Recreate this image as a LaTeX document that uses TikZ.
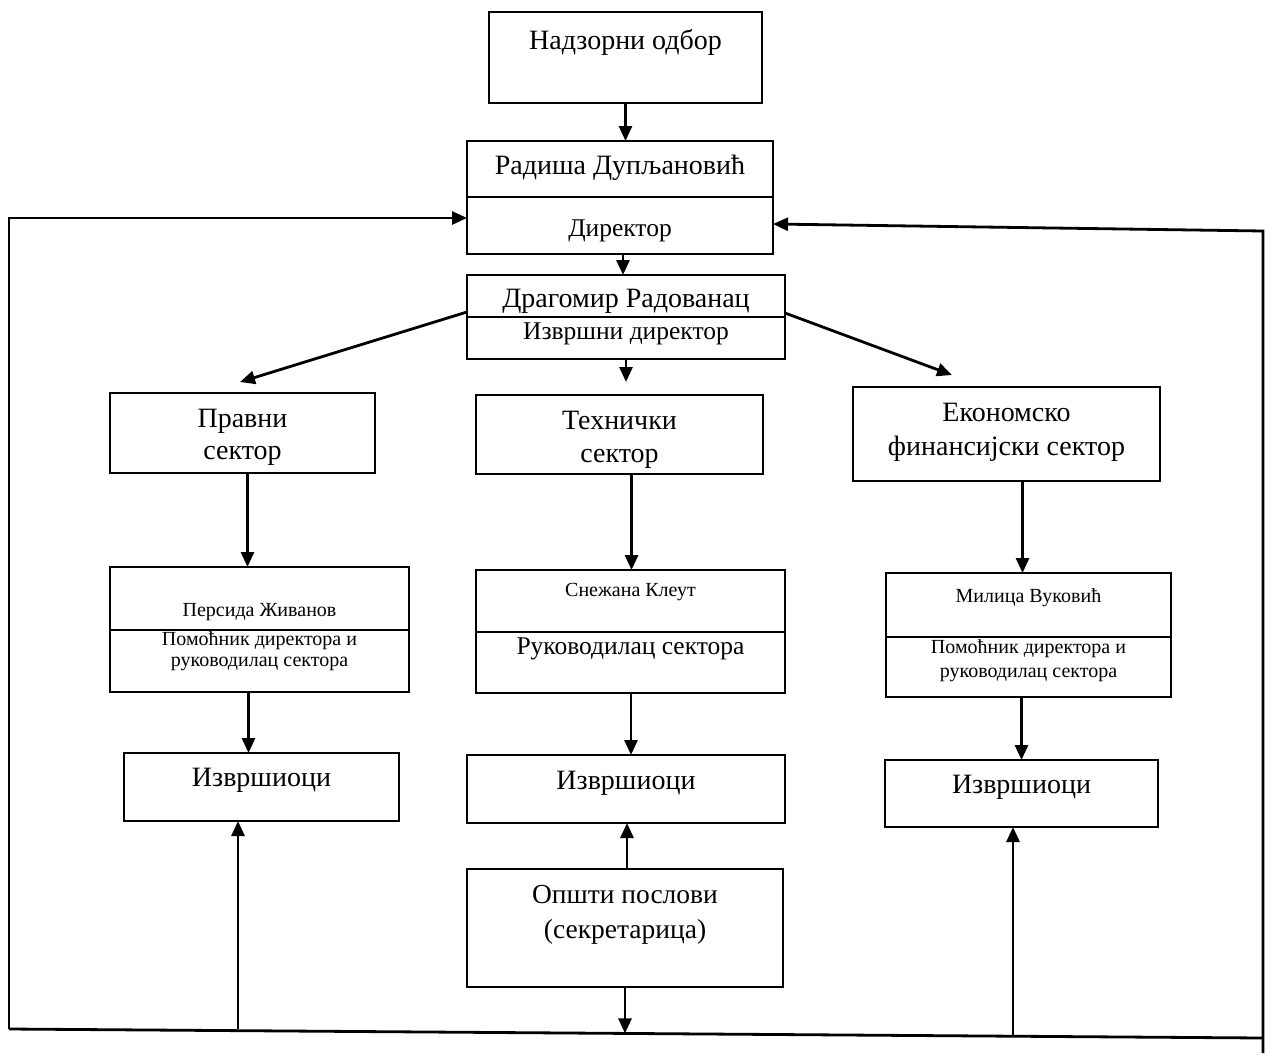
\documentclass[tikz,border=0pt]{standalone}
\usepackage{fontspec}
\setmainfont{Liberation Serif}
\usetikzlibrary{arrows.meta}
\begin{document}
\begin{tikzpicture}[x=1pt,y=-1pt,
  box/.style={draw, line width=2.8pt, inner sep=0pt, outer sep=0pt},
  ln/.style={line width=2.8pt},
  arr/.style={line width=2.8pt, -{Triangle[length=15pt,width=13pt]}},
  txt/.style={inner sep=0pt, align=center},
  tbig/.style={txt, font=\fontsize{28}{33}\selectfont},
  tmid/.style={txt, font=\fontsize{25.5}{30}\selectfont},
  tsmall/.style={txt, font=\fontsize{20}{21}\selectfont},
]
\useasboundingbox (0,0) rectangle (1271,1055);
\fill[white] (0,0) rectangle (1271,1055);

% boxes
\node[box, minimum width=273pt, minimum height=91pt] (nad) at (625.5,57.5) {};
\node[box, minimum width=306pt, minimum height=113pt] (rad) at (620,197.5) {};
\node[box, minimum width=318pt, minimum height=84pt] (dra) at (626,317) {};
\node[box, minimum width=265pt, minimum height=80pt] (prav) at (242.5,433) {};
\node[box, minimum width=287pt, minimum height=79pt] (tech) at (619.5,434.5) {};
\node[box, minimum width=307pt, minimum height=94pt] (econ) at (1006.5,434) {};
\node[box, minimum width=299pt, minimum height=125pt] (pers) at (259.5,629.5) {};
\node[box, minimum width=309pt, minimum height=123pt] (snez) at (630.5,631.5) {};
\node[box, minimum width=285pt, minimum height=124pt] (mil) at (1028.5,635) {};
\node[box, minimum width=275pt, minimum height=68pt] (izl) at (261.5,787) {};
\node[box, minimum width=318pt, minimum height=68pt] (izm) at (626,789) {};
\node[box, minimum width=273pt, minimum height=67pt] (izr) at (1021.5,793.5) {};
\node[box, minimum width=316pt, minimum height=118pt] (ops) at (625,928) {};

% dividers
\draw[ln] (rad.west |- 0,197) -- (rad.east |- 0,197);
\draw[ln] (dra.west |- 0,317) -- (dra.east |- 0,317);
\draw[ln] (pers.west |- 0,630) -- (pers.east |- 0,630);
\draw[ln] (snez.west |- 0,632) -- (snez.east |- 0,632);
\draw[ln] (mil.west |- 0,637) -- (mil.east |- 0,637);

% texts
\node[tbig] (tnad) at (625.5,42) {Надзорни одбор};
\node[tbig] (trad1) at (620,168) {Радиша Дупљановић};
\node[tmid] (trad2) at (620,231) {Директор};
\node[tbig] (tdra1) at (626,301) {Драгомир Радованац};
\node[tmid] (tdra2) at (626,334) {Извршни директор};
\node[txt, font=\fontsize{28}{32}\selectfont] (tprav) at (242.5,437) {Правни\\сектор};
\node[txt, font=\fontsize{28}{33}\selectfont] (ttech) at (619.5,440) {Технички\\сектор};
\node[txt, font=\fontsize{28}{34}\selectfont] (tecon) at (1006.5,432) {Економско\\финансијски сектор};
\node[tsmall] (tpers1) at (259.5,612) {Персида Живанов};
\node[tsmall] (tpers2) at (259.5,651) {Помоћник директора и\\руководилац сектора};
\node[tsmall] (tsnez1) at (630.5,592) {Снежана Клеут};
\node[tmid] (tsnez2) at (630.5,649) {Руководилац сектора};
\node[tsmall] (tmil1) at (1028.5,598) {Милица Вуковић};
\node[tsmall, font=\fontsize{20}{24}\selectfont] (tmil2) at (1028.5,661) {Помоћник директора и\\руководилац сектора};
\node[tbig] (tizl) at (261.5,780) {Извршиоци};
\node[tbig] (tizm) at (626,783) {Извршиоци};
\node[tbig] (tizr) at (1021.5,787) {Извршиоци};
\node[txt, font=\fontsize{27.5}{35}\selectfont] (tops) at (625,915) {Општи послови\\(секретарица)};

% coordinates of loop
\coordinate (bl) at (9,1029);
\coordinate (br) at (1263,1038);
\coordinate (bre) at (1263,1053);
\coordinate (tl) at (9,218);
\coordinate (tr) at (1263,231);
\coordinate (lt) at (240,382);
\coordinate (rt) at (952,375);
\coordinate (ul) at (238,1029.3);
\coordinate (ur) at (1013,1036.2);
\coordinate (om) at (625,1033.4);

% connectors
\draw[arr] (nad.south) -- (nad.south |- rad.north);
\draw[arr] ([xshift=3pt]rad.south) -- ([xshift=3pt]rad.south |- dra.north);
\draw[arr] (dra.south) -- ([yshift=13pt]dra.south |- tech.north);
\draw[arr] ([yshift=5pt]dra.west) -- (lt);
\draw[arr] ([yshift=4pt]dra.east) -- (rt);
\draw[arr] ([xshift=5pt]prav.south) -- ([xshift=5pt]prav.south |- pers.north);
\draw[arr] ([xshift=12pt]tech.south) -- ([xshift=12pt]tech.south |- snez.north);
\draw[arr] ([xshift=16pt]econ.south) -- ([xshift=16pt]econ.south |- mil.north);
\draw[arr] ([xshift=-13pt]izl.north |- pers.south) -- ([xshift=-13pt]izl.north);
\draw[arr] ([xshift=5pt]izm.north |- snez.south) -- ([xshift=5pt]izm.north);
\draw[arr] (izr.north |- mil.south) -- (izr.north);
\draw[arr] ([xshift=2pt]ops.north) -- ([xshift=2pt]ops.north |- izm.south);
\draw[arr] (ops.south) -- (om);

% feedback loop
\draw[ln] (bl) -- (br);
\draw[arr] (bl) -- (tl) -- (tl -| rad.west);
\draw[arr] (bre) -- (tr) -- ([yshift=-26.5pt]rad.east);
\draw[arr] (ul) -- (ul |- izl.south);
\draw[arr] (ur) -- (ur |- izr.south);
\end{tikzpicture}
\end{document}
